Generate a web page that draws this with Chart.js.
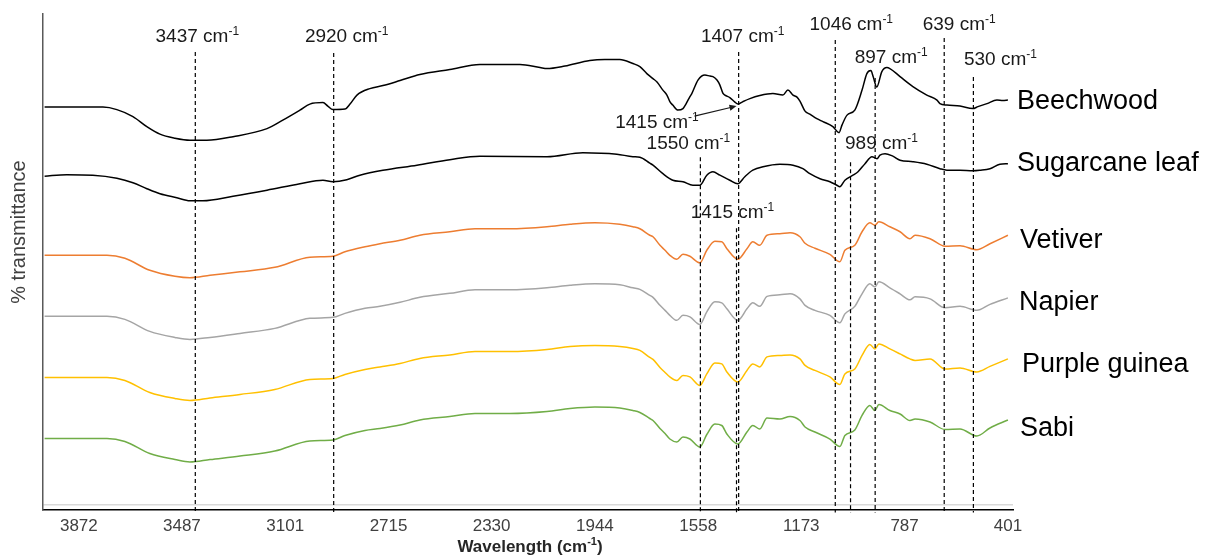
<!DOCTYPE html>
<html>
<head>
<meta charset="utf-8">
<script src="https://cdn.jsdelivr.net/npm/chart.js@4.4.1/dist/chart.umd.min.js"></script>
<style>
  html, body { margin: 0; padding: 0; background: #fff; }
  #wrap { width: 1206px; height: 555px; position: relative; }
</style>
</head>
<body>
<div id="wrap"><canvas id="c" width="1206" height="555"></canvas></div>
<script>
// FTIR spectra of six biomass samples, stacked with a vertical offset

const sampleNames = ['Beechwood', 'Sugarcane leaf', 'Vetiver', 'Napier', 'Purple guinea', 'Sabi'];

const beechwoodWn = [4000,3782,3730,3670,3618,3569,3513,3457,3394,3296,3169,3110,3046,3009,2960,2942,2923,2878,2859,2833,2785,2736,2672,2598,2486,2374,2224,2149,2123,2056,1963,1907,1851,1802,1776,1750,1727,1712,1690,1675,1664,1653,1634,1615,1604,1589,1582,1559,1533,1514,1503,1488,1477,1466,1458,1440,1421,1410,1391,1365,1328,1279,1242,1223,1204,1189,1178,1159,1141,1115,1092,1055,1032,1021,1002,973,946,928,913,904,891,872,853,842,804,756,704,666,655,629,580,532,513,479,442,420,401];
const beechwoodT  = [79.4,79.4,78.9,77.5,75.5,74.0,73.2,72.8,72.8,73.5,75.1,76.8,78.8,80.0,80.3,79.6,78.9,79.0,80.0,81.8,83.1,83.7,84.7,85.9,86.9,87.9,87.9,87.3,87.1,87.6,88.7,88.9,88.9,88.1,87.5,86.1,85.1,84.4,82.8,81.8,80.5,79.8,78.8,79.1,80.0,81.5,82.1,84.8,85.8,85.6,85.5,84.8,83.8,82.2,81.8,81.3,80.4,80.0,80.5,81.1,81.7,82.1,81.8,82.8,81.8,81.4,80.6,78.6,78.0,77.1,76.5,75.5,74.3,75.8,77.8,78.8,82.8,86.1,86.7,85.4,83.4,86.5,87.3,87.1,85.5,83.5,81.8,80.8,80.1,79.8,79.6,79.1,79.5,80.1,80.8,80.7,80.8];

const sugarcaneWn = [4000,3917,3820,3730,3670,3618,3569,3506,3457,3409,3296,3169,3046,2960,2923,2871,2822,2736,2609,2486,2374,2123,1989,1862,1802,1776,1739,1727,1690,1653,1615,1578,1552,1526,1503,1477,1440,1410,1384,1354,1316,1253,1204,1167,1141,1103,1066,1040,1029,1010,980,961,935,909,890,879,860,831,804,756,704,655,629,580,532,506,468,431,401];
const sugarcaneT  = [65.6,65.9,65.8,65.2,64.3,63.1,62.1,61.3,60.7,60.7,61.6,62.8,64.1,64.8,64.5,64.9,65.8,66.8,67.8,68.9,69.6,69.5,70.3,70.0,69.5,69.4,68.2,67.8,66.1,64.8,64.5,63.8,63.8,65.8,66.5,65.8,64.8,64.1,65.5,66.8,67.5,68.0,67.8,67.1,66.1,65.1,64.5,63.8,63.5,64.8,65.8,66.5,68.1,69.5,69.1,69.8,70.1,69.6,68.8,68.5,68.0,67.1,66.8,66.8,66.7,66.8,67.1,68.0,68.1];

// the four grass spectra were sampled on the same wavenumbers
const grassWn = [4000,3767,3700,3607,3513,3457,3382,3270,3140,3009,2923,2878,2803,2747,2672,2598,2486,2392,2262,2123,2037,1944,1851,1802,1776,1739,1727,1701,1682,1664,1638,1615,1589,1552,1526,1496,1470,1451,1410,1376,1354,1328,1301,1253,1215,1178,1159,1122,1066,1029,1010,973,946,917,898,883,842,804,767,748,692,636,580,517,468,401];
const vetiverT = [49.8,49.8,49.2,46.8,45.6,45.3,45.8,46.5,47.4,49.4,49.6,50.5,51.5,52.1,52.8,53.8,54.5,55.1,55.1,55.5,56.0,56.3,56.0,55.5,55.1,53.8,53.5,51.8,50.8,49.8,49.0,50.0,49.6,48.3,50.8,52.6,52.5,51.1,49.0,51.1,52.5,51.8,53.8,54.1,54.3,53.5,52.2,51.2,50.0,48.5,50.8,51.8,54.5,56.3,55.8,56.5,55.5,54.5,53.1,53.8,53.1,51.6,51.7,50.9,52.1,53.8];
const napierT = [37.6,37.6,37.0,34.6,33.4,33.0,33.4,34.2,35.2,37.2,37.4,38.2,39.2,39.6,40.4,41.4,42.2,42.9,42.9,43.3,43.8,44.1,43.9,43.3,43.0,41.8,41.4,39.8,38.8,37.8,36.8,37.8,37.5,36.0,38.5,40.5,40.3,39.1,36.8,39.1,40.3,39.6,41.6,41.9,42.1,41.1,39.8,38.8,37.8,36.3,38.1,39.6,42.1,44.1,43.5,44.5,43.3,42.1,40.9,41.5,41.1,39.3,39.6,38.8,40.0,41.3];
const purpleGuineaT = [25.4,25.4,24.8,22.4,21.2,20.8,21.3,22.0,23.0,25.0,25.2,26.0,27.0,27.5,28.2,29.2,29.9,30.6,30.6,31.0,31.6,31.8,31.6,31.2,30.8,29.4,29.0,27.4,26.4,25.5,24.8,25.8,25.5,23.8,26.1,28.3,28.1,26.5,24.5,26.8,28.1,27.5,29.5,29.8,29.9,29.1,27.8,26.8,25.5,24.0,26.1,27.1,29.8,32.0,31.1,32.1,31.1,30.1,29.1,28.8,29.1,27.1,27.3,26.5,27.6,29.1];
const sabiT = [13.2,13.2,12.6,10.2,9.0,8.5,9.0,9.7,10.7,12.7,12.9,13.8,14.8,15.2,15.9,16.9,17.6,18.2,18.2,18.6,19.2,19.5,19.3,18.8,18.4,17.2,16.8,15.2,14.2,13.1,12.5,13.5,13.1,11.5,14.0,16.1,15.8,14.1,12.1,14.5,15.8,15.1,17.3,17.1,17.6,16.8,15.5,14.5,13.1,11.6,13.8,14.9,17.8,19.8,18.8,20.0,18.8,18.1,16.8,17.1,16.5,15.0,15.1,13.7,15.3,16.9];

const xTickValues = [3872, 3487, 3101, 2715, 2330, 1944, 1558, 1173, 787, 401];

// assigned absorption bands (dashed markers)
const peakWn = [3437, 2920, 1550, 1415, 1407, 1046, 989, 897, 639, 530];
// band pointed to by the arrow on the beechwood trace
const arrowPeakWn = 1415;

// ---- layout (placement only) ----
const peakLayout = [
  { top: 90.4, dx: 2,   labelY: 93.4 },
  { top: 90.2, dx: 13,  labelY: 93.4 },
  { top: 69.4, dx: -12, labelY: 72.0 },
  { top: 55.2, dx: -4,  labelY: 58.2 },
  { top: 90.4, dx: 4,   labelY: 93.4 },
  { top: 92.8, dx: 16,  labelY: 95.8 },
  { top: 68.4, dx: 31,  labelY: 72.0 },
  { top: 85.2, dx: 16,  labelY: 89.2 },
  { top: 93.2, dx: 15,  labelY: 95.8 },
  { top: 85.4, dx: 27,  labelY: 88.8 }
];
const arrowLayout = { labelWn: 1712, labelY: 76.2, fromWn: 1572, fromY: 77.6, toY: 79.6 };
const seriesLabelLayout = [
  { dx: 4, y: 80.6 }, { dx: 4, y: 68.2 }, { dx: 7, y: 52.8 },
  { dx: 6, y: 40.4 }, { dx: 9, y: 28.0 }, { dx: 7, y: 15.2 }
];
const lineBottom = -1.6;
const colors = ['#000000', '#000000', '#ED7D31', '#A5A5A5', '#FFC000', '#70AD47'];
const FONT = '"Liberation Sans", Arial, Helvetica, sans-serif';

function pairs(xs, ys) { return xs.map((v, i) => ({ x: v, y: ys[i] })); }

const seriesData = [
  pairs(beechwoodWn, beechwoodT),
  pairs(sugarcaneWn, sugarcaneT),
  pairs(grassWn, vetiverT),
  pairs(grassWn, napierT),
  pairs(grassWn, purpleGuineaT),
  pairs(grassWn, sabiT)
];

const datasets = [];
peakWn.forEach((wn, i) => {
  datasets.push({
    label: 'band ' + wn,
    data: [{ x: wn, y: peakLayout[i].top }, { x: wn, y: lineBottom }],
    borderColor: '#000',
    borderWidth: 1.2,
    borderDash: [4, 3],
    pointRadius: 0,
    clip: false
  });
});
seriesData.forEach((d, i) => {
  datasets.push({
    label: sampleNames[i],
    data: d,
    borderColor: colors[i],
    borderWidth: 1.5,
    pointRadius: 0,
    cubicInterpolationMode: 'monotone'
  });
});

function drawSup(ctx, base, sup, tail, cx, cy, size, weight, color, align) {
  const supSize = Math.round(size * 0.62);
  ctx.font = weight + ' ' + size + 'px ' + FONT;
  const w1 = ctx.measureText(base).width;
  const w3 = tail ? ctx.measureText(tail).width : 0;
  ctx.font = weight + ' ' + supSize + 'px ' + FONT;
  const w2 = ctx.measureText(sup).width;
  const total = w1 + w2 + w3;
  let x0 = align === 'center' ? cx - total / 2 : cx;
  ctx.fillStyle = color;
  ctx.textAlign = 'left';
  ctx.textBaseline = 'middle';
  ctx.font = weight + ' ' + size + 'px ' + FONT;
  ctx.fillText(base, x0, cy);
  ctx.font = weight + ' ' + supSize + 'px ' + FONT;
  ctx.fillText(sup, x0 + w1, cy - size * 0.3);
  if (tail) {
    ctx.font = weight + ' ' + size + 'px ' + FONT;
    ctx.fillText(tail, x0 + w1 + w2, cy);
  }
}

const overlay = {
  id: 'overlay',
  afterDraw(chart) {
    const { ctx, chartArea: a } = chart;
    const x = chart.scales.x, y = chart.scales.y;
    ctx.save();

    // band labels
    peakWn.forEach((wn, i) => {
      const L = peakLayout[i];
      drawSup(ctx, wn + ' cm', '-1', '', x.getPixelForValue(wn) + L.dx,
              y.getPixelForValue(L.labelY), 19, 'normal', '#1a1a1a', 'center');
    });

    // arrowed label on the beechwood trace
    drawSup(ctx, arrowPeakWn + ' cm', '-1', '', x.getPixelForValue(arrowLayout.labelWn),
            y.getPixelForValue(arrowLayout.labelY), 19, 'normal', '#1a1a1a', 'center');
    const x1 = x.getPixelForValue(arrowLayout.fromWn), y1 = y.getPixelForValue(arrowLayout.fromY);
    const x2 = x.getPixelForValue(arrowPeakWn), y2 = y.getPixelForValue(arrowLayout.toY);
    const ang = Math.atan2(y2 - y1, x2 - x1);
    ctx.strokeStyle = '#1a1a1a';
    ctx.lineWidth = 1.2;
    ctx.beginPath();
    ctx.moveTo(x1, y1);
    ctx.lineTo(x2 - 5 * Math.cos(ang), y2 - 5 * Math.sin(ang));
    ctx.stroke();
    ctx.fillStyle = '#1a1a1a';
    ctx.beginPath();
    ctx.moveTo(x2, y2);
    ctx.lineTo(x2 - 7 * Math.cos(ang) + 3 * Math.sin(ang), y2 - 7 * Math.sin(ang) - 3 * Math.cos(ang));
    ctx.lineTo(x2 - 7 * Math.cos(ang) - 3 * Math.sin(ang), y2 - 7 * Math.sin(ang) + 3 * Math.cos(ang));
    ctx.closePath();
    ctx.fill();

    // sample names at the right end of each trace
    ctx.font = '27px ' + FONT;
    ctx.fillStyle = '#000';
    ctx.textAlign = 'left';
    ctx.textBaseline = 'middle';
    sampleNames.forEach((name, i) => {
      const L = seriesLabelLayout[i];
      ctx.fillText(name, a.right + L.dx, y.getPixelForValue(L.y));
    });

    // axis titles
    drawSup(ctx, 'Wavelength (cm', '-1', ')', (a.left + a.right) / 2 + 2, 547,
            17, 'bold', '#262626', 'center');
    ctx.save();
    ctx.translate(19, a.top + (a.bottom - a.top) * 0.44);
    ctx.rotate(-Math.PI / 2);
    ctx.font = '20px ' + FONT;
    ctx.fillStyle = '#404040';
    ctx.textAlign = 'center';
    ctx.textBaseline = 'middle';
    ctx.fillText('% transmittance', 0, 0);
    ctx.restore();

    ctx.restore();
  }
};

Chart.defaults.font.family = FONT;

new Chart(document.getElementById('c'), {
  type: 'line',
  data: { datasets },
  options: {
    responsive: false,
    devicePixelRatio: 1,
    animation: false,
    layout: { padding: { left: 43, right: 193, top: 14, bottom: 11 } },
    plugins: { legend: { display: false }, tooltip: { enabled: false } },
    scales: {
      x: {
        type: 'linear',
        reverse: true,
        min: 382,
        max: 4006,
        afterBuildTicks: s => { s.ticks = xTickValues.map(v => ({ value: v })); },
        ticks: {
          autoSkip: false,
          maxRotation: 0,
          padding: 7,
          color: '#404040',
          font: { size: 17 },
          callback: v => String(v)
        },
        grid: { display: false, drawTicks: false },
        border: { display: true, color: '#000', width: 1.5 }
      },
      y: {
        type: 'linear',
        min: -1,
        max: 98,
        afterBuildTicks: s => { s.ticks = [{ value: 0 }]; },
        ticks: { display: false },
        grid: { color: '#d9d9d9', lineWidth: 1.5, drawTicks: false },
        border: { display: true, color: '#595959', width: 1.5 }
      }
    }
  },
  plugins: [overlay]
});
</script>
</body>
</html>
